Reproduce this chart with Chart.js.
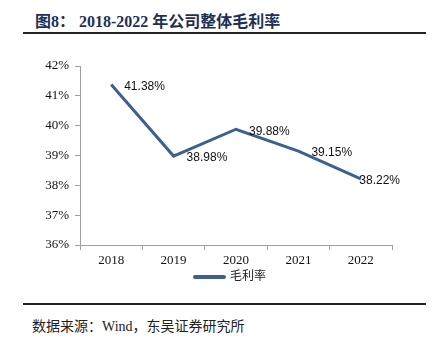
<!DOCTYPE html>
<html>
<head>
<meta charset="utf-8">
<script src="https://cdn.jsdelivr.net/npm/chart.js@4/dist/chart.umd.min.js"></script>
<style>
  html,body{margin:0;padding:0;background:#fff;}
  body{width:434px;height:344px;position:relative;overflow:hidden;}
  .title{position:absolute;left:35px;top:8px;font:bold 16px "Liberation Serif","Noto Sans CJK SC",serif;color:#1f2f55;white-space:nowrap;}
  .title .cn{font-family:"Noto Sans CJK SC",sans-serif;font-weight:bold;}
  .rule{position:absolute;left:23px;width:403px;height:2px;background:#222;}
  #wrap{position:absolute;left:0;top:50px;width:434px;height:222px;}
  .legend{position:absolute;top:266px;left:193px;height:16px;white-space:nowrap;font:12px "Noto Sans CJK SC",sans-serif;color:#222;}
  .legend i{display:inline-block;width:33px;height:4px;background:#3c6092;vertical-align:middle;margin-right:4px;border-radius:2px;}
  .source{position:absolute;left:32px;top:315px;font:14px "Noto Sans CJK SC",serif;color:#222;white-space:nowrap;}
  .source .en{font-family:"Liberation Serif",serif;}
</style>
</head>
<body>
<div class="title">图8<span class="cn">：</span> 2018-2022 <span class="cn">年公司整体毛利率</span></div>
<div class="rule" style="top:32px"></div>
<div id="wrap"><canvas id="c" width="434" height="222"></canvas></div>
<div class="legend"><i></i>毛利率</div>
<div class="rule" style="top:303px"></div>
<div class="source">数据来源：<span class="en">Wind</span>，东吴证券研究所</div>
<script>
// years and gross margin (%)
const years = ["2018","2019","2020","2021","2022"];
const grossMargin = [41.38, 38.98, 39.88, 39.15, 38.22];
const yTicks = [36, 37, 38, 39, 40, 41, 42];

const LINE = "#3c6092";
const AXIS = "#a0a0a0";

// value labels to the right of each point, kept inside the canvas
const pointLabels = {
  id: "pointLabels",
  afterDatasetsDraw(chart){
    const ctx = chart.ctx;
    const meta = chart.getDatasetMeta(0);
    ctx.save();
    ctx.font = "12px 'Liberation Sans', Arial, sans-serif";
    ctx.fillStyle = "#111";
    ctx.textBaseline = "middle";
    meta.data.forEach((pt, i) => {
      const txt = grossMargin[i].toFixed(2) + "%";
      const w = ctx.measureText(txt).width;
      let x = pt.x + 13;
      if (x + w > 400) x = 400 - w;
      ctx.fillText(txt, x, pt.y + 2);
    });
    ctx.restore();
  }
};

new Chart(document.getElementById("c"), {
  type: "line",
  data: {
    labels: years,
    datasets: [{
      label: "毛利率",
      data: grossMargin,
      borderColor: LINE,
      borderWidth: 3,
      pointRadius: 0,
      tension: 0,
      fill: false
    }]
  },
  options: {
    responsive: false,
    animation: false,
    layout: { padding: { top: 16, right: 42, left: 0, bottom: 0 } },
    plugins: { legend: { display: false }, tooltip: { enabled: false } },
    scales: {
      x: {
        offset: true,
        grid: { offset: true, drawOnChartArea: false, drawTicks: true, tickLength: 5, color: AXIS },
        border: { color: AXIS, width: 1 },
        ticks: { color: "#111", padding: 3, font: { family: "'Liberation Serif', serif", size: 13 } },
        afterFit: s => { s.height = 27; }
      },
      y: {
        min: yTicks[0],
        max: yTicks[yTicks.length - 1],
        afterBuildTicks: s => { s.ticks = yTicks.map(v => ({ value: v })); },
        grid: { drawOnChartArea: false, drawTicks: true, tickLength: 5, color: AXIS },
        border: { color: AXIS, width: 1 },
        ticks: { color: "#111", padding: 6, font: { family: "'Liberation Serif', serif", size: 13 },
                 callback: v => v + "%" },
        afterFit: s => { s.width = 80; }
      }
    }
  },
  plugins: [pointLabels]
});
</script>
</body>
</html>
